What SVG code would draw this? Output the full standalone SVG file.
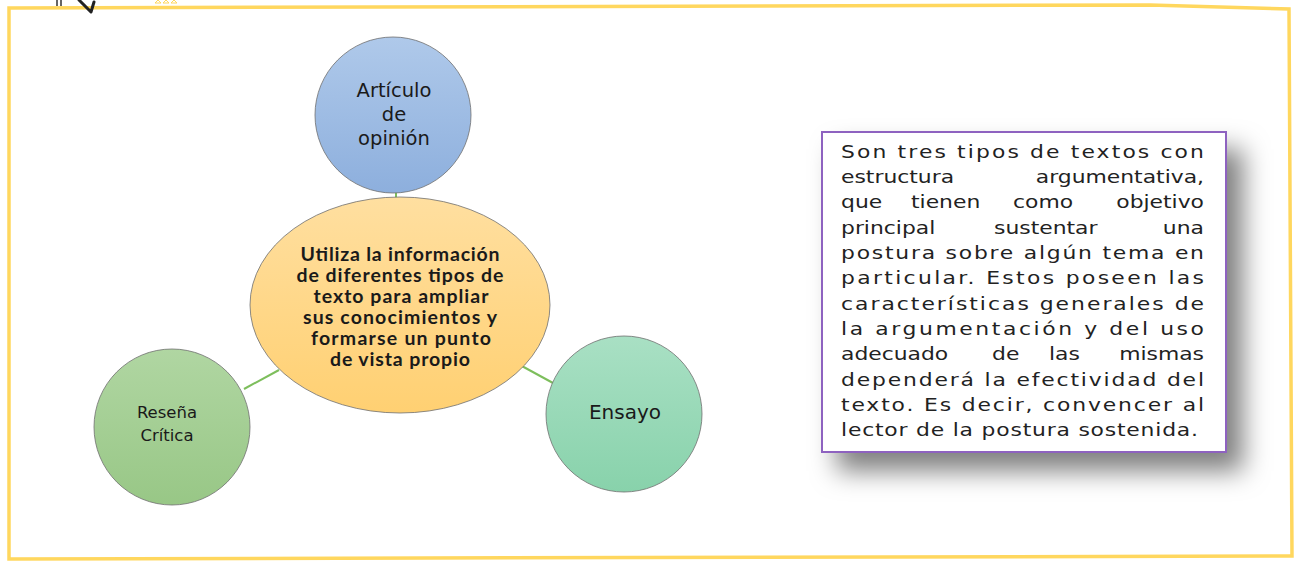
<svg xmlns="http://www.w3.org/2000/svg" width="1294" height="562" viewBox="0 0 1294 562">
<defs>
<linearGradient id="gBlue" x1="0" y1="0" x2="0" y2="1"><stop offset="0" stop-color="#AFC9EA"/><stop offset="1" stop-color="#8DAFDD"/></linearGradient>
<linearGradient id="gOrange" x1="0" y1="0" x2="0" y2="1"><stop offset="0" stop-color="#FFDFA0"/><stop offset="1" stop-color="#FFD072"/></linearGradient>
<linearGradient id="gGreen" x1="0" y1="0" x2="0" y2="1"><stop offset="0" stop-color="#B0D6A2"/><stop offset="1" stop-color="#98C786"/></linearGradient>
<linearGradient id="gTeal" x1="0" y1="0" x2="0" y2="1"><stop offset="0" stop-color="#A9E0C4"/><stop offset="1" stop-color="#88D2AB"/></linearGradient>
<filter id="shadow" x="-15%" y="-15%" width="145%" height="160%">
<feDropShadow dx="16" dy="18" stdDeviation="13" flood-color="#000" flood-opacity="0.5"/>
</filter>
</defs>
<style>
.node{stroke:#6f6f6f;stroke-width:0.8}
.lbl{font-family:"DejaVu Sans","Open Sans",sans-serif;fill:#1a1a1a;text-anchor:middle}
.ctr{font-family:Lato,"Liberation Sans",sans-serif;font-weight:bold;font-size:19.5px;fill:#1a1a1a;text-anchor:middle}
.body{font-family:"DejaVu Sans","Noto Sans",sans-serif;font-size:17.5px;fill:#222}
.conn{stroke:#7DBE5C;stroke-width:2;fill:none}
</style>
<rect width="1294" height="562" fill="#fff"/>
<g id="frame">
<path d="M9,8 L1150,5 L1289,9 L1292,556 L9,559 Z" fill="none" stroke="#FFD75E" stroke-width="3.5"/>
<path d="M57,0 V6 M61,0 V6" stroke="#333" stroke-width="1.5"/>
<path d="M79,0 L91,12 L94,2" fill="none" stroke="#222" stroke-width="3" stroke-linecap="round" stroke-linejoin="round"/>
<path d="M155,3 L158,0 L161,3 Z M163,3 L166,0 L169,3 Z M171,3 L174,0 L177,3 Z" fill="none" stroke="#FFD75E" stroke-width="1"/>
</g>
<g id="connectors">
<line class="conn" x1="396" y1="192" x2="396" y2="199"/>
<line class="conn" x1="244" y1="389" x2="279" y2="370"/>
<line class="conn" x1="520" y1="365" x2="553" y2="383"/>
</g>
<g id="center">
<ellipse class="node" cx="400" cy="305" rx="150" ry="108" fill="url(#gOrange)"/>
<text class="ctr" x="400" y="261" textLength="199" lengthAdjust="spacing">Utiliza la información</text>
<text class="ctr" x="400" y="282" textLength="207" lengthAdjust="spacing">de diferentes tipos de</text>
<text class="ctr" x="401" y="303" textLength="175" lengthAdjust="spacing">texto para ampliar</text>
<text class="ctr" x="400" y="324" textLength="194" lengthAdjust="spacing">sus conocimientos y</text>
<text class="ctr" x="401" y="345" textLength="180" lengthAdjust="spacing">formarse un punto</text>
<text class="ctr" x="400" y="366" textLength="140" lengthAdjust="spacing">de vista propio</text>
</g>
<g id="articulo">
<circle class="node" cx="393" cy="115" r="78" fill="url(#gBlue)"/>
<text class="lbl" x="394" y="97" font-size="19.5">Artículo</text>
<text class="lbl" x="394" y="121" font-size="19.5">de</text>
<text class="lbl" x="394" y="145" font-size="19.5">opinión</text>
</g>
<g id="resena">
<circle class="node" cx="172" cy="427" r="78" fill="url(#gGreen)"/>
<text class="lbl" x="167" y="418" font-size="16.5">Reseña</text>
<text class="lbl" x="167" y="441" font-size="16.5">Crítica</text>
</g>
<g id="ensayo">
<circle class="node" cx="624" cy="414" r="78" fill="url(#gTeal)"/>
<text class="lbl" x="625" y="419" font-size="20">Ensayo</text>
</g>
<g id="textbox">
<rect x="822" y="132" width="404" height="320" fill="#fff" stroke="#8E62C0" stroke-width="2" filter="url(#shadow)"/>
<g transform="translate(841,0) scale(1.25,1)">
<text class="body" x="0" y="158" textLength="290.4" lengthAdjust="spacing">Son tres tipos de textos con</text>
<text class="body" x="0" y="183">estructura</text>
<text class="body" x="290.4" y="183" text-anchor="end">argumentativa,</text>
<text class="body" x="0" y="208">que</text>
<text class="body" x="56" y="208">tienen</text>
<text class="body" x="137.6" y="208">como</text>
<text class="body" x="290.4" y="208" text-anchor="end">objetivo</text>
<text class="body" x="0" y="234">principal</text>
<text class="body" x="122.4" y="234">sustentar</text>
<text class="body" x="290.4" y="234" text-anchor="end">una</text>
<text class="body" x="0" y="259" textLength="290.4" lengthAdjust="spacing">postura sobre algún tema en</text>
<text class="body" x="0" y="284" textLength="290.4" lengthAdjust="spacing">particular. Estos poseen las</text>
<text class="body" x="0" y="310" textLength="290.4" lengthAdjust="spacing">características generales de</text>
<text class="body" x="0" y="335" textLength="290.4" lengthAdjust="spacing">la argumentación y del uso</text>
<text class="body" x="0" y="360">adecuado</text>
<text class="body" x="120.8" y="360">de</text>
<text class="body" x="166.4" y="360">las</text>
<text class="body" x="290.4" y="360" text-anchor="end">mismas</text>
<text class="body" x="0" y="386" textLength="290.4" lengthAdjust="spacing">dependerá la efectividad del</text>
<text class="body" x="0" y="411" textLength="290.4" lengthAdjust="spacing">texto. Es decir, convencer al</text>
<text class="body" x="0" y="436" textLength="285.6" lengthAdjust="spacing">lector de la postura sostenida.</text>
</g>
</g>
</svg>
